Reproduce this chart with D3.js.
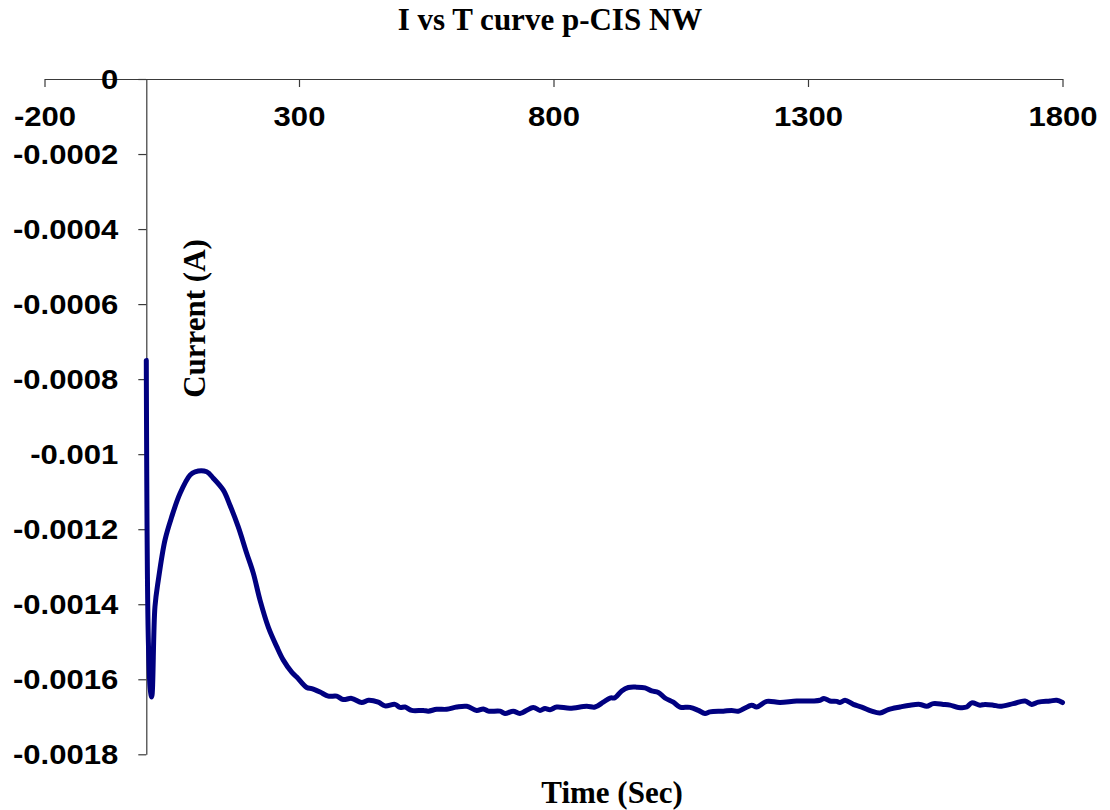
<!DOCTYPE html>
<html>
<head>
<meta charset="utf-8">
<script src="https://cdn.jsdelivr.net/npm/d3@7"></script>
<style>
  html, body { margin: 0; padding: 0; background: #fff; }
  svg { display: block; }
</style>
</head>
<body>
<svg id="chart" width="1110" height="810"></svg>
<script>
// ---- data ----
const chartTitle = "I vs T curve p-CIS NW";
const xAxisTitle = "Time (Sec)";
const yAxisTitle = "Current (A)";

const xTickValues = [-200, 300, 800, 1300, 1800];
const xTickLabels = ["-200", "300", "800", "1300", "1800"];
const yTickValues = [0, -0.0002, -0.0004, -0.0006, -0.0008, -0.001, -0.0012, -0.0014, -0.0016, -0.0018];
const yTickLabels = ["0", "-0.0002", "-0.0004", "-0.0006", "-0.0008", "-0.001", "-0.0012", "-0.0014", "-0.0016", "-0.0018"];

const timeSec = [0, 4, 8, 10.6, 17, 23.6, 36.7, 49.9, 66.2, 85.9, 95.7, 118.7, 131.6, 151.3, 164.4, 180.7, 197.2, 210.2, 223.4, 239.7, 256.2, 269.2, 285.7, 295.5, 315.1, 325, 341.3, 357.6, 374, 387, 403.5, 423.2, 436.2, 455.8, 469, 488.6, 498.4, 508.3, 521.4, 544.2, 554, 570.5, 590.2, 609.8, 629.5, 649.1, 662.1, 671.9, 694.9, 704.7, 721, 734.2, 760.3, 773.5, 783.3, 793.1, 806.3, 832.4, 865.2, 881.5, 897.8, 911, 920.8, 934, 947, 963.5, 979.8, 992.9, 1005.9, 1019, 1035.4, 1048.5, 1068.2, 1084.5, 1097.6, 1107.5, 1133.6, 1150.1, 1163.1, 1189.4, 1199.2, 1218.9, 1245, 1277.8, 1310.4, 1323.6, 1331.4, 1343.2, 1356.4, 1362.9, 1372.7, 1389, 1405.5, 1425.1, 1441.4, 1457.7, 1480.7, 1500.4, 1520, 1533.2, 1546.2, 1565.8, 1579, 1595.3, 1611.8, 1621.6, 1637.9, 1647.7, 1664.1, 1677.2, 1703.3, 1726.3, 1739.5, 1752.5, 1775.4, 1788.6, 1800];
const currentE4 = [-7.5, -14.96, -16.3, -16.47, -14.07, -13.36, -12.29, -11.67, -11.05, -10.56, -10.47, -10.47, -10.64, -10.96, -11.36, -11.94, -12.64, -13.17, -13.89, -14.61, -15.13, -15.49, -15.81, -15.94, -16.22, -16.25, -16.34, -16.45, -16.45, -16.54, -16.51, -16.62, -16.56, -16.61, -16.71, -16.67, -16.75, -16.74, -16.83, -16.83, -16.85, -16.8, -16.8, -16.74, -16.72, -16.83, -16.79, -16.85, -16.85, -16.91, -16.85, -16.91, -16.75, -16.83, -16.78, -16.81, -16.74, -16.77, -16.72, -16.74, -16.61, -16.5, -16.49, -16.31, -16.22, -16.21, -16.23, -16.31, -16.35, -16.5, -16.61, -16.74, -16.75, -16.83, -16.91, -16.87, -16.85, -16.83, -16.85, -16.69, -16.74, -16.59, -16.62, -16.58, -16.58, -16.56, -16.51, -16.58, -16.59, -16.62, -16.56, -16.67, -16.74, -16.85, -16.9, -16.81, -16.74, -16.69, -16.67, -16.72, -16.65, -16.67, -16.69, -16.75, -16.74, -16.63, -16.69, -16.67, -16.69, -16.72, -16.65, -16.58, -16.67, -16.61, -16.58, -16.56, -16.62];
const currentA = currentE4.map(v => v * 1e-4);

// ---- layout ----
const svg = d3.select("#chart");
const x = d3.scaleLinear().domain([-200, 1800]).range([44.5, 1062.5]);
const y = d3.scaleLinear().domain([0, -0.0018]).range([79, 754.3]);
const axisColor = "#3a3a3a";
const tickFont = "'Liberation Sans', Arial, sans-serif";
const serifFont = "'Liberation Serif', 'Times New Roman', serif";
const stretch = 1.15;

// x axis (at y = 0)
const xAxis = d3.axisBottom(x).tickValues(xTickValues)
  .tickFormat((d, i) => xTickLabels[i]).tickSize(8).tickSizeOuter(0).tickPadding(20);
const gx = svg.append("g").attr("transform", `translate(0,${y(0)})`).call(xAxis);

// y axis (at x = 0)
const yAxis = d3.axisLeft(y).tickValues(yTickValues)
  .tickFormat((d, i) => yTickLabels[i]).tickSize(8).tickSizeOuter(0).tickPadding(20);
const gy = svg.append("g").attr("transform", `translate(${x(0)},0)`).call(yAxis);

[gx, gy].forEach(g => {
  g.select(".domain").attr("stroke", axisColor).attr("stroke-width", 1.2);
  g.selectAll(".tick line").attr("stroke", axisColor).attr("stroke-width", 1.2);
  g.selectAll(".tick text")
    .attr("fill", "#000")
    .style("font-family", tickFont)
    .style("font-weight", "bold")
    .style("font-size", "27px");
});
gx.selectAll(".tick text").attr("dy", "0.71em");
gy.selectAll(".tick text").attr("dy", "0.35em");
svg.selectAll(".tick text").each(function () {
  const w = this.getComputedTextLength();
  d3.select(this).attr("textLength", w * stretch).attr("lengthAdjust", "spacingAndGlyphs");
});

// data line
const pts = timeSec.map((t, i) => [t, currentA[i]]);
const line = d3.line().x(d => x(d[0])).y(d => y(d[1])).curve(d3.curveCatmullRom.alpha(0.5));
svg.append("path")
  .datum(pts)
  .attr("d", line)
  .attr("fill", "none")
  .attr("stroke", "#000080")
  .attr("stroke-width", 5)
  .attr("stroke-linejoin", "round")
  .attr("stroke-linecap", "round");

// titles
svg.append("text")
  .attr("x", 550).attr("y", 29.5)
  .attr("text-anchor", "middle")
  .style("font-family", serifFont).style("font-weight", "bold").style("font-size", "31px")
  .text(chartTitle);

svg.append("text")
  .attr("x", 612).attr("y", 803)
  .attr("text-anchor", "middle")
  .style("font-family", serifFont).style("font-weight", "bold").style("font-size", "31px")
  .text(xAxisTitle);

svg.append("text")
  .attr("transform", "translate(205,318.5) rotate(-90)")
  .attr("text-anchor", "middle")
  .style("font-family", serifFont).style("font-weight", "bold").style("font-size", "31px")
  .text(yAxisTitle);
</script>
</body>
</html>
